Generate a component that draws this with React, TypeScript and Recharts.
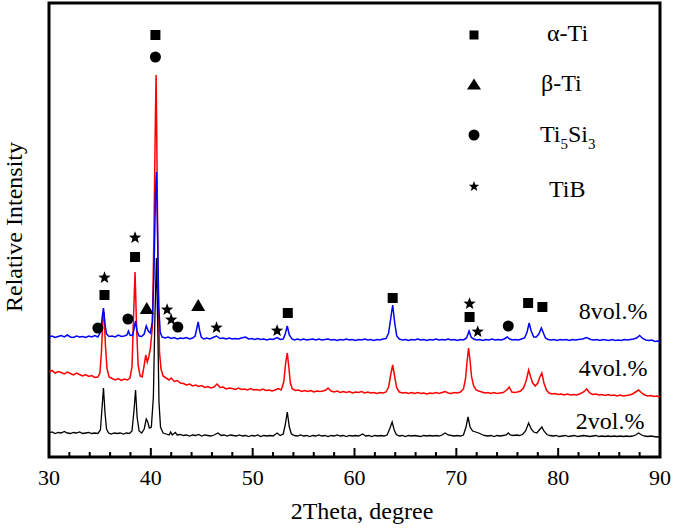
import React from "react";
import {
  ComposedChart,
  Line,
  Scatter,
  XAxis,
  YAxis,
  ReferenceArea,
  ReferenceDot,
  Legend,
} from "recharts";

const FONT = "'Liberation Serif', 'Times New Roman', Times, serif";

type Pt = [number, number];

// 2θ (degree) vs. relative intensity (arbitrary units, stacked patterns)
const pattern2vol: Pt[] = [
  [30.0, 24], [30.3, 25], [30.6, 23.5], [30.9, 24.5], [31.2, 24], [31.5, 25.5], [31.8, 24], [32.1, 23.5],
  [32.4, 24.5], [32.7, 24], [33.0, 25], [33.3, 23.5], [33.6, 24], [33.9, 24.5], [34.2, 23.5], [34.5, 24],
  [34.8, 23.5], [35.05, 27], [35.2, 48], [35.35, 69], [35.5, 44], [35.65, 28], [35.85, 24], [36.1, 23],
  [36.4, 24], [36.7, 23.5], [37.0, 24], [37.3, 23], [37.6, 24], [37.9, 23.5], [38.15, 26], [38.35, 47],
  [38.5, 67], [38.65, 40], [38.85, 26], [39.1, 24], [39.35, 28], [39.55, 38], [39.7, 35], [39.85, 29],
  [40.05, 30], [40.25, 60], [40.4, 140], [40.55, 199], [40.68, 130], [40.8, 55], [40.95, 30], [41.2, 24],
  [41.5, 23], [41.8, 22], [41.95, 25], [42.1, 22], [42.4, 24.5], [42.6, 22], [42.9, 22.5], [43.2, 21.5],
  [43.5, 22], [43.8, 21], [44.1, 22], [44.4, 21.5], [44.7, 22.5], [45.0, 21], [45.3, 22], [45.6, 21.5],
  [45.9, 21], [46.2, 22], [46.6, 24], [46.9, 21.5], [47.2, 22], [47.5, 21], [47.8, 22], [48.1, 21.5],
  [48.4, 21], [48.7, 22], [49.0, 21], [49.3, 21.5], [49.6, 20.5], [49.9, 21.5], [50.2, 21], [50.5, 22],
  [50.8, 20.5], [51.1, 21.5], [51.4, 21], [51.7, 21.5], [52.0, 21], [52.4, 24], [52.7, 21.5], [53.0, 23],
  [53.2, 32], [53.4, 45], [53.6, 30], [53.8, 23], [54.1, 21.5], [54.4, 21], [54.7, 22], [55.0, 21],
  [55.3, 21.5], [55.6, 20.5], [55.9, 21.5], [56.2, 21], [56.5, 22], [56.8, 21], [57.1, 21.5], [57.4, 20.5],
  [57.7, 21.5], [58.0, 21], [58.3, 22], [58.6, 21], [58.9, 21.5], [59.2, 20.5], [59.5, 21.5], [59.8, 21],
  [60.1, 21.5], [60.4, 21], [60.8, 23], [61.1, 21], [61.4, 21.5], [61.7, 20.5], [62.0, 21.5], [62.3, 21],
  [62.6, 21.5], [62.9, 21], [63.2, 22], [63.45, 28], [63.7, 35], [63.9, 27], [64.1, 22.5], [64.4, 21],
  [64.7, 21.5], [65.0, 20.5], [65.3, 21.5], [65.6, 21], [65.9, 21.5], [66.2, 21], [66.5, 20.5], [66.8, 21.5],
  [67.1, 21], [67.4, 21.5], [67.7, 21], [68.0, 21.5], [68.3, 21], [68.6, 22], [68.9, 24], [69.2, 22],
  [69.5, 21.5], [69.8, 21], [70.1, 21.5], [70.4, 21], [70.7, 22], [70.95, 30], [71.15, 40], [71.35, 30],
  [71.6, 26], [71.9, 25], [72.2, 24], [72.5, 22.5], [72.8, 21.5], [73.1, 21], [73.4, 21.5], [73.7, 20.5],
  [74.0, 21.5], [74.3, 21], [74.6, 21.5], [74.9, 22], [75.1, 24], [75.3, 22], [75.6, 21.5], [75.9, 22],
  [76.2, 21.5], [76.5, 22.5], [76.8, 26], [77.1, 34], [77.35, 28], [77.6, 25], [77.9, 24], [78.15, 27],
  [78.4, 30], [78.6, 26], [78.9, 22.5], [79.2, 21.5], [79.5, 21], [79.8, 21.5], [80.1, 20.5], [80.4, 21],
  [80.7, 21.5], [81.0, 20.5], [81.3, 21], [81.6, 21.5], [81.9, 20.5], [82.2, 21], [82.5, 21.5], [82.8, 21],
  [83.1, 20.5], [83.4, 21], [83.7, 21.5], [84.0, 20.5], [84.3, 21], [84.6, 20.5], [84.9, 21], [85.2, 20.5],
  [85.5, 21], [85.8, 20.5], [86.1, 21], [86.4, 20.5], [86.7, 21], [87.0, 20.5], [87.3, 21], [87.6, 22],
  [87.9, 24], [88.2, 22], [88.5, 21], [88.8, 20.5], [89.1, 21], [89.4, 20.5], [89.7, 20], [90.0, 20.5],
];

const pattern4vol: Pt[] = [
  [30.0, 85], [30.3, 86.5], [30.6, 84], [30.9, 85.5], [31.2, 84.5], [31.5, 83], [31.8, 85], [32.1, 83.5],
  [32.4, 82], [32.7, 84], [33.0, 82.5], [33.3, 81], [33.6, 82.5], [33.9, 80.5], [34.2, 81.5], [34.5, 79.5],
  [34.8, 80], [35.0, 84], [35.15, 105], [35.3, 140], [35.4, 145], [35.55, 110], [35.7, 88], [35.9, 80],
  [36.2, 78.5], [36.5, 77], [36.8, 78.5], [37.1, 76.5], [37.4, 78], [37.7, 77], [37.95, 79], [38.15, 90],
  [38.3, 140], [38.45, 185], [38.6, 130], [38.75, 92], [38.95, 81], [39.15, 80], [39.35, 92], [39.5, 102],
  [39.65, 95], [39.8, 100], [39.95, 108], [40.15, 130], [40.3, 220], [40.45, 340], [40.52, 382], [40.6, 300],
  [40.72, 170], [40.85, 105], [41.0, 88], [41.2, 81], [41.5, 79], [41.8, 77], [42.0, 79], [42.3, 75.5],
  [42.6, 76.5], [42.9, 74], [43.2, 73.5], [43.5, 72], [43.8, 73], [44.1, 71], [44.4, 72], [44.7, 70.5],
  [45.0, 71.5], [45.3, 69.5], [45.6, 70.5], [45.9, 69], [46.2, 70], [46.5, 73], [46.8, 69.5], [47.1, 70],
  [47.4, 68], [47.7, 69], [48.0, 68.5], [48.3, 67.5], [48.6, 69], [48.9, 67.5], [49.2, 68], [49.5, 67],
  [49.8, 68.5], [50.1, 67], [50.4, 67.5], [50.7, 66.5], [51.0, 68], [51.3, 66.5], [51.6, 67], [51.9, 66],
  [52.2, 67], [52.5, 68.5], [52.8, 67], [53.05, 75], [53.25, 95], [53.4, 104], [53.55, 90], [53.7, 74],
  [53.9, 68], [54.2, 66.5], [54.5, 67], [54.8, 65.5], [55.1, 66.5], [55.4, 65.5], [55.7, 66.5], [56.0, 65],
  [56.3, 66], [56.6, 65.5], [56.9, 66], [57.2, 67], [57.4, 69], [57.7, 66], [58.0, 65], [58.3, 66],
  [58.6, 64.5], [58.9, 65.5], [59.2, 64.5], [59.5, 65.5], [59.8, 64], [60.1, 65], [60.4, 64.5], [60.7, 65.5],
  [61.0, 64], [61.3, 65], [61.6, 64], [61.9, 64.5], [62.2, 63.5], [62.5, 64.5], [62.8, 64], [63.1, 65],
  [63.35, 70], [63.55, 82], [63.75, 92], [63.95, 80], [64.15, 69], [64.4, 65], [64.7, 64], [65.0, 64.5],
  [65.3, 63.5], [65.6, 64.5], [65.9, 63.5], [66.2, 64.5], [66.5, 63.5], [66.8, 64], [67.1, 63], [67.4, 64],
  [67.7, 63.5], [68.0, 64.5], [68.3, 63.5], [68.6, 64.5], [68.9, 65.5], [69.2, 64], [69.5, 63.5], [69.8, 64.5],
  [70.1, 64], [70.4, 65], [70.7, 68], [70.9, 78], [71.05, 95], [71.2, 109], [71.35, 96], [71.5, 80],
  [71.7, 71], [71.95, 67], [72.2, 66], [72.5, 65], [72.8, 64], [73.1, 64.5], [73.4, 63.5], [73.7, 64.5],
  [74.0, 63.5], [74.3, 64], [74.6, 64.5], [74.95, 67], [75.2, 70], [75.45, 65], [75.7, 64.5], [76.0, 65],
  [76.3, 66], [76.6, 69], [76.85, 76], [77.1, 87], [77.3, 80], [77.5, 74], [77.75, 71], [78.0, 74],
  [78.2, 80], [78.4, 84], [78.6, 74], [78.85, 67], [79.1, 64], [79.4, 63], [79.7, 63.5], [80.0, 62.5],
  [80.3, 63], [80.6, 62], [80.9, 63], [81.2, 62], [81.5, 62.5], [81.8, 62], [82.1, 63], [82.5, 65],
  [82.8, 68], [83.1, 64], [83.4, 62.5], [83.7, 63], [84.0, 62], [84.3, 62.5], [84.6, 61.5], [84.9, 62.5],
  [85.2, 61.5], [85.5, 62], [85.8, 61], [86.1, 62], [86.4, 61], [86.7, 61.5], [87.0, 62], [87.3, 63],
  [87.6, 65], [87.9, 67], [88.2, 64], [88.5, 62], [88.8, 61], [89.1, 61.5], [89.4, 60.5], [89.7, 61],
  [90.0, 60],
];

const pattern8vol: Pt[] = [
  [30.0, 120], [30.3, 121], [30.6, 119.5], [30.9, 120.5], [31.2, 121.5], [31.5, 120], [31.8, 122], [32.1, 120],
  [32.4, 119.5], [32.7, 121], [33.0, 120], [33.3, 120.5], [33.6, 119.5], [33.9, 121], [34.2, 120], [34.5, 121.5],
  [34.8, 120], [35.05, 125], [35.2, 138], [35.35, 149], [35.5, 133], [35.65, 123], [35.9, 120.5], [36.2, 121],
  [36.5, 120], [36.8, 122], [37.1, 120.5], [37.4, 121], [37.65, 122], [37.8, 126], [37.95, 122], [38.2, 121.5],
  [38.35, 128], [38.5, 136], [38.65, 126], [38.85, 121], [39.1, 120.5], [39.35, 123], [39.55, 131], [39.75, 126],
  [39.95, 124], [40.15, 135], [40.3, 180], [40.45, 260], [40.55, 285], [40.65, 230], [40.78, 150], [40.92, 125],
  [41.1, 120], [41.4, 119], [41.7, 120], [42.0, 118.5], [42.3, 119.5], [42.6, 118], [42.9, 119], [43.2, 118.5],
  [43.5, 119.5], [43.8, 118], [44.1, 119], [44.35, 121], [44.5, 128], [44.65, 135], [44.8, 126], [44.95, 120],
  [45.2, 118], [45.5, 119], [45.8, 118], [46.1, 119.5], [46.45, 121], [46.8, 118.5], [47.1, 119], [47.4, 118],
  [47.7, 119], [48.0, 118], [48.3, 118.5], [48.6, 118], [48.9, 119], [49.3, 120], [49.6, 118], [49.9, 118.5],
  [50.2, 117.5], [50.5, 118.5], [50.8, 117.5], [51.1, 118], [51.4, 117], [51.7, 118], [52.0, 117.5], [52.4, 119.5],
  [52.7, 117.5], [53.0, 118], [53.2, 123], [53.4, 131], [53.6, 122], [53.85, 118], [54.1, 117], [54.4, 118],
  [54.7, 117], [55.0, 118], [55.3, 117], [55.6, 117.5], [55.9, 118], [56.2, 117], [56.5, 118], [56.8, 117],
  [57.1, 117.5], [57.4, 118], [57.7, 117], [58.0, 117.5], [58.3, 116.5], [58.6, 117.5], [58.9, 117], [59.2, 118],
  [59.5, 117], [59.8, 117.5], [60.1, 116.5], [60.4, 117.5], [60.7, 117], [61.0, 118], [61.3, 117], [61.6, 117.5],
  [61.9, 116.5], [62.2, 117.5], [62.5, 117], [62.8, 118], [63.1, 118.5], [63.35, 124], [63.55, 138], [63.75, 152],
  [63.95, 134], [64.15, 121], [64.4, 118], [64.7, 117], [65.0, 117.5], [65.3, 116.5], [65.6, 117.5], [65.9, 117],
  [66.2, 118], [66.5, 117], [66.8, 117.5], [67.1, 116.5], [67.4, 117.5], [67.7, 117], [68.0, 118], [68.3, 117],
  [68.6, 117.5], [68.9, 117], [69.2, 118], [69.5, 117], [69.8, 117.5], [70.1, 116.5], [70.4, 117.5], [70.7, 117],
  [71.0, 119], [71.25, 126], [71.45, 120], [71.7, 118], [72.0, 117], [72.3, 117.5], [72.6, 116.5], [72.9, 117.5],
  [73.2, 117], [73.5, 118], [73.8, 117], [74.1, 117.5], [74.4, 117], [74.7, 118], [75.0, 120], [75.25, 118],
  [75.5, 117], [75.8, 117.5], [76.1, 117], [76.4, 118], [76.7, 119], [76.95, 125], [77.15, 134], [77.35, 126],
  [77.6, 120], [77.85, 120], [78.1, 123], [78.35, 129], [78.55, 124], [78.75, 119], [79.0, 117.5], [79.3, 117],
  [79.6, 117.5], [79.9, 116.5], [80.2, 117.5], [80.5, 117], [80.8, 117.5], [81.1, 116.5], [81.4, 117.5], [81.7, 117],
  [82.0, 117.5], [82.4, 118], [82.8, 119.5], [83.2, 117.5], [83.5, 117], [83.8, 117.5], [84.1, 116.5], [84.4, 117.5],
  [84.7, 117], [85.0, 116.5], [85.3, 117.5], [85.6, 116.5], [85.9, 117], [86.2, 116.5], [86.5, 117.5], [86.8, 117],
  [87.1, 117.5], [87.4, 118], [87.7, 119], [88.0, 121.5], [88.3, 118.5], [88.6, 117], [88.9, 116.5], [89.2, 117],
  [89.5, 115.5], [89.8, 116], [90.0, 115],
];

// peak identification marks (2θ, height on the same stacked scale)
const alphaTiMarks: Pt[] = [
  [35.45, 162], [38.45, 200], [40.45, 422], [53.45, 144], [63.75, 159], [71.3, 140], [77.05, 154], [78.45, 150],
];
const betaTiMarks: Pt[] = [[39.6, 149], [44.65, 152]];
const ti5si3Marks: Pt[] = [[34.8, 129], [37.75, 138], [40.45, 400], [42.65, 130], [75.1, 131]];
const tiBMarks: Pt[] = [
  [35.45, 180], [38.45, 220], [41.6, 148], [42.0, 138], [46.45, 130], [52.4, 127], [71.3, 154], [72.1, 126],
];

const sampleNames = ["2vol.%", "4vol.%", "8vol.%"];
const sampleLabelX = [85.1, 85.4, 85.4];
const sampleLabelY = [37, 89.5, 147];

const phaseNames = ["α-Ti", "β-Ti", "Ti5Si3", "TiB"];
const xTicks = [30, 32, 34, 36, 38, 40, 42, 44, 46, 48, 50, 52, 54, 56, 58, 60, 62, 64, 66, 68, 70, 72, 74, 76, 78, 80, 82, 84, 86, 88, 90];

const rows = (pts: Pt[]) => pts.map(([x, y]) => ({ x, y }));

function Square({ cx, cy, s = 10 }: any) {
  return <rect x={cx - s / 2} y={cy - s / 2} width={s} height={s} fill="#000" />;
}
function Tri({ cx, cy, w = 14, h = 12 }: any) {
  return <polygon points={`${cx},${cy - h / 2} ${cx + w / 2},${cy + h / 2} ${cx - w / 2},${cy + h / 2}`} fill="#000" />;
}
function Dot({ cx, cy, r = 5.5 }: any) {
  return <circle cx={cx} cy={cy} r={r} fill="#000" />;
}
function Star({ cx, cy, r = 6.5 }: any) {
  const pts: string[] = [];
  for (let i = 0; i < 10; i++) {
    const rr = i % 2 === 0 ? r : r * 0.42;
    const a = -Math.PI / 2 + (i * Math.PI) / 5;
    pts.push(`${cx + rr * Math.cos(a)},${cy + rr * Math.sin(a) + r * 0.1}`);
  }
  return <polygon points={pts.join(" ")} fill="#000" />;
}

function Chem({ text, x, y, size }: any) {
  const parts = text.split(/(\d)/).filter((p: string) => p !== "");
  let shifted = false;
  return (
    <text x={x} y={y} fontSize={size} fontFamily={FONT} fill="#000">
      {parts.map((p: string, i: number) => {
        if (/\d/.test(p)) {
          shifted = true;
          return <tspan key={i} fontSize={size * 0.62} dy={size * 0.3}>{p}</tspan>;
        }
        const dy = shifted ? -size * 0.3 : 0;
        shifted = false;
        return <tspan key={i} dy={dy}>{p}</tspan>;
      })}
    </text>
  );
}

const legendSymbols = [Square, Tri, Dot, Star];
const legendSymY = [25, 74, 125, 176];
const legendTextX = [97, 91, 90, 99];
const legendTextY = [31, 81, 132, 187];

function PhaseLegend() {
  return (
    <svg width={200} height={200} style={{ overflow: "visible" }}>
      {phaseNames.map((name, i) => {
        const Sym = legendSymbols[i];
        const props = i === 0 ? { s: 9 } : i === 1 ? { w: 14, h: 11 } : { r: 5.5 };
        return (
          <g key={name}>
            <Sym cx={24} cy={legendSymY[i]} {...props} />
            <Chem text={name} x={legendTextX[i]} y={legendTextY[i]} size={24} />
          </g>
        );
      })}
    </svg>
  );
}

function XTick({ x, y, payload }: any) {
  const v = payload.value;
  const major = v % 10 === 0;
  const axisY = y - 12;
  return (
    <g>
      <line x1={x} x2={x} y1={axisY} y2={axisY - (major ? 9 : 5)} stroke="#000" strokeWidth={2} />
      {major && (
        <text x={x} y={axisY + 28} textAnchor="middle" fontSize={22} fontFamily={FONT} fill="#000">
          {v}
        </text>
      )}
    </g>
  );
}

export default function App() {
  return (
    <div style={{ position: "absolute", left: 0, top: 0, width: 675, height: 528, background: "#fff" }}>
      <ComposedChart width={675} height={528} margin={{ top: 3, right: 15, left: 0, bottom: 0 }}>
        <XAxis
          type="number"
          dataKey="x"
          domain={[30, 90]}
          ticks={xTicks}
          interval={0}
          tick={<XTick />}
          tickLine={false}
          axisLine={false}
          tickSize={0}
          tickMargin={12}
          height={71}
          allowDataOverflow
          label={{
            content: () => (
              <text x={362} y={519} textAnchor="middle" fontSize={24} fontFamily={FONT} fill="#000">
                2Theta, degree
              </text>
            ),
          }}
        />
        <YAxis
          type="number"
          domain={[0, 454]}
          width={49}
          tick={false}
          tickLine={false}
          axisLine={false}
          allowDataOverflow
          label={{
            content: () => (
              <text
                x={22}
                y={227}
                transform="rotate(-90 22 227)"
                textAnchor="middle"
                fontSize={24}
                fontFamily={FONT}
                fill="#000"
              >
                Relative Intensity
              </text>
            ),
          }}
        />
        <ReferenceArea x1={30} x2={90} y1={0} y2={454} fill="none" stroke="#000" strokeWidth={3} />
        <Line data={rows(pattern4vol)} dataKey="y" stroke="#FF0000" strokeWidth={1.5} dot={false} isAnimationActive={false} />
        <Line data={rows(pattern8vol)} dataKey="y" stroke="#0000FF" strokeWidth={1.5} dot={false} isAnimationActive={false} />
        <Line data={rows(pattern2vol)} dataKey="y" stroke="#000000" strokeWidth={1.3} dot={false} isAnimationActive={false} />
        <Scatter data={rows(alphaTiMarks)} dataKey="y" shape={(p: any) => <Square cx={p.cx} cy={p.cy} />} isAnimationActive={false} />
        <Scatter data={rows(betaTiMarks)} dataKey="y" shape={(p: any) => <Tri cx={p.cx} cy={p.cy} />} isAnimationActive={false} />
        <Scatter data={rows(ti5si3Marks)} dataKey="y" shape={(p: any) => <Dot cx={p.cx} cy={p.cy} />} isAnimationActive={false} />
        <Scatter data={rows(tiBMarks)} dataKey="y" shape={(p: any) => <Star cx={p.cx} cy={p.cy} />} isAnimationActive={false} />
        {sampleNames.map((name, i) => (
          <ReferenceDot
            key={name}
            x={sampleLabelX[i]}
            y={sampleLabelY[i]}
            r={0}
            stroke="none"
            label={{ value: name, position: "center", fontSize: 24, fontFamily: FONT, fill: "#000" }}
          />
        ))}
        <Legend
          layout="vertical"
          align="center"
          verticalAlign="middle"
          wrapperStyle={{ left: 450, top: 10, width: 200, height: 200 }}
          content={() => <PhaseLegend />}
        />
      </ComposedChart>
    </div>
  );
}
